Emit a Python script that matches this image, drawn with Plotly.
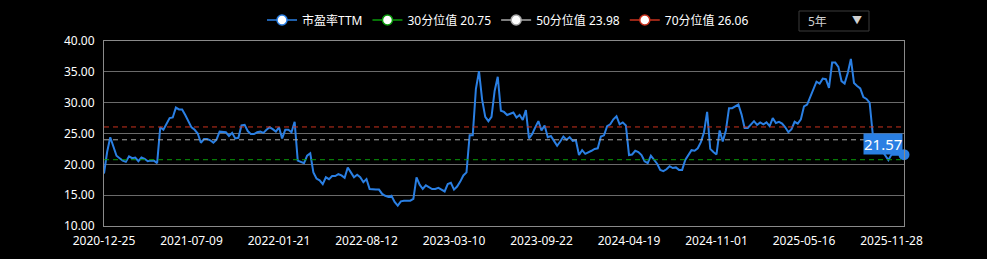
import pandas as pd
import plotly.graph_objects as go

# ---- data ----
start_date = "2020-12-25"
end_date = "2025-12-26"
holiday_weeks = ["2022-02-04", "2022-10-07", "2023-01-27", "2023-10-06", "2024-02-16"]
pe_ttm = [
    18.5, 22.0, 24.4, 22.8, 21.4, 21.0, 20.6, 20.4, 21.3, 21.0,
    21.1, 20.5, 21.1, 20.9, 20.5, 20.6, 20.6, 20.2, 26.0, 25.6,
    26.6, 27.5, 27.6, 29.2, 28.9, 28.9, 28.0, 27.0, 26.0, 25.6,
    25.0, 23.5, 24.1, 24.1, 23.9, 23.5, 24.0, 25.3, 25.3, 25.2,
    24.6, 25.1, 24.2, 24.3, 26.3, 26.4, 25.4, 24.9, 24.9, 25.2,
    25.3, 25.1, 25.6, 26.0, 25.7, 25.3, 26.0, 24.2, 25.6, 25.6,
    25.2, 26.9, 20.6, 20.4, 20.2, 21.4, 21.8, 18.7, 17.7, 17.4,
    16.8, 17.9, 17.6, 18.1, 18.1, 18.4, 18.2, 17.8, 19.5, 18.7,
    17.9, 18.3, 17.9, 17.1, 17.6, 16.0, 15.9, 15.9, 15.9, 15.2,
    14.9, 14.7, 14.9, 13.9, 13.3, 14.0, 14.1, 14.1, 14.1, 14.4,
    17.9, 16.7, 16.0, 16.6, 16.3, 16.0, 16.0, 16.2, 15.9, 15.6,
    16.8, 17.0, 15.9, 16.4, 17.2, 18.2, 18.7, 24.7, 24.7, 32.2,
    35.1, 30.5, 27.7, 27.0, 27.7, 31.9, 34.2, 28.7, 28.5, 28.0,
    28.2, 28.4, 27.6, 28.0, 27.2, 28.8, 24.2, 24.9, 26.0, 27.0,
    25.5, 26.3, 24.4, 24.6, 23.8, 23.0, 23.7, 24.5, 24.0, 24.4,
    23.8, 23.9, 21.5, 22.3, 21.7, 21.9, 22.2, 22.5, 22.6, 24.5,
    24.7, 26.2, 26.5, 27.3, 27.8, 26.5, 26.8, 26.3, 21.5, 21.6,
    22.2, 22.0, 21.5, 20.5, 20.2, 21.4, 20.7, 20.1, 19.1, 18.9,
    19.2, 19.7, 19.4, 19.5, 19.1, 19.1, 20.7, 21.6, 22.3, 22.2,
    22.6, 23.6, 25.2, 28.5, 22.5, 22.0, 21.6, 25.5, 23.7, 25.5,
    29.1, 29.1, 29.4, 29.7, 28.1, 25.9, 25.9, 26.4, 27.0, 26.4,
    26.8, 26.5, 26.8, 26.2, 27.5, 26.7, 26.9, 26.6, 26.0, 25.2,
    25.7, 26.9, 26.6, 27.3, 29.4, 29.7, 30.9, 32.2, 33.4, 33.1,
    33.9, 33.8, 32.4, 36.5, 36.5, 35.8, 33.5, 33.1, 34.8, 37.1,
    33.2, 32.7, 32.3, 30.9, 30.6, 30.0, 24.9, 23.7, 23.0, 22.2,
    21.5, 20.7, 21.6, 21.6, 21.6, 21.5, 21.57,
]
all_weeks = pd.date_range(start_date, end_date, freq="7D").strftime("%Y-%m-%d")
dates = [d for d in all_weeks if d not in holiday_weeks]

pct_names = ["30分位值", "50分位值", "70分位值"]
pct_values = [20.75, 23.98, 26.06]
pct_colors = ["#0a9a0a", "#a8a8a8", "#c8321e"]

tick_labels = ["2020-12-25", "2021-07-09", "2022-01-21", "2022-08-12", "2023-03-10",
               "2023-09-22", "2024-04-19", "2024-11-01", "2025-05-16", "2025-11-28"]
y_ticks = [10, 15, 20, 25, 30, 35, 40]
range_label = "5年"

line_color = "#2a7fe3"
FONT = "Noto Sans, Noto Sans CJK SC, sans-serif"

fig = go.Figure()

# main series
fig.add_trace(go.Scatter(x=dates, y=pe_ttm, mode="lines",
                         line=dict(color=line_color, width=2),
                         showlegend=False, hoverinfo="skip"))
# last point marker
fig.add_trace(go.Scatter(x=[dates[-1]], y=[pe_ttm[-1]], mode="markers",
                         marker=dict(color=line_color, size=11),
                         showlegend=False, cliponaxis=False))

# percentile lines
for name, val, col in zip(pct_names, pct_values, pct_colors):
    fig.add_trace(go.Scatter(x=[dates[0], dates[-1]], y=[val, val], mode="lines",
                             line=dict(color=col, width=1, dash="5px,4px"),
                             showlegend=False, hoverinfo="skip"))

# legend entries
legend_items = [("市盈率TTM", line_color)] + [
    (f"{n} {v:.2f}", c) for n, v, c in zip(pct_names, pct_values, pct_colors)]
for label, col in legend_items:
    fig.add_trace(go.Scatter(x=[None], y=[None], mode="lines+markers", name=label,
                             line=dict(color=col, width=1.5),
                             marker=dict(color="white", size=10,
                                         line=dict(color=col, width=1.5))))

# last value label
fig.add_annotation(x=dates[-1], y=pe_ttm[-1], text=f"{pe_ttm[-1]:.2f}",
                   showarrow=False, xanchor="right", yanchor="middle",
                   xshift=-1, yshift=11, bgcolor=line_color, borderpad=0,
                   font=dict(color="white", size=15, family=FONT))

# range selector look-alike
fig.add_shape(type="rect", xref="paper", yref="paper",
              x0=(799 - 104) / 800, x1=(869 - 104) / 800,
              y0=(226 - 31) / 185, y1=(226 - 11) / 185,
              line=dict(color="#3a3a3a", width=1), fillcolor="black")
fig.add_annotation(xref="paper", yref="paper", x=(806 - 104) / 800, y=(226 - 21) / 185,
                   text=range_label, showarrow=False, xanchor="left", yanchor="middle",
                   font=dict(color="#d0d0d0", size=12, family=FONT))
fig.add_annotation(xref="paper", yref="paper", x=(857 - 104) / 800, y=(226 - 20) / 185,
                   text="▼", showarrow=False, xanchor="center", yanchor="middle",
                   font=dict(color="#d0d0d0", size=10, family=FONT))

fig.update_layout(
    width=987, height=259,
    margin=dict(l=104, r=83, t=41, b=33, autoexpand=False),
    paper_bgcolor="black", plot_bgcolor="black",
    font=dict(family=FONT, color="white", size=12),
    legend=dict(orientation="h", x=0.505, xanchor="center", y=(226 - 20) / 185,
                yanchor="middle", font=dict(color="white", size=12, family=FONT),
                itemwidth=30, bgcolor="rgba(0,0,0,0)", traceorder="normal"),
    xaxis=dict(type="category", range=[0, len(dates) - 1], tickvals=tick_labels,
               ticktext=tick_labels, showgrid=False, showline=True,
               linecolor="#8a8a8a", linewidth=1, mirror=True, ticks="",
               tickfont=dict(color="white", size=12), zeroline=False,
               ticklabelstandoff=4),
    yaxis=dict(range=[10, 40], tickvals=y_ticks, tickformat=".2f",
               showgrid=True, gridcolor="#6a6a6a", gridwidth=1,
               showline=True, linecolor="#8a8a8a", linewidth=1, mirror=True,
               ticks="", tickfont=dict(color="white", size=12), zeroline=False,
               ticklabelstandoff=6),
    showlegend=True,
)

fig.write_html("out.html")
